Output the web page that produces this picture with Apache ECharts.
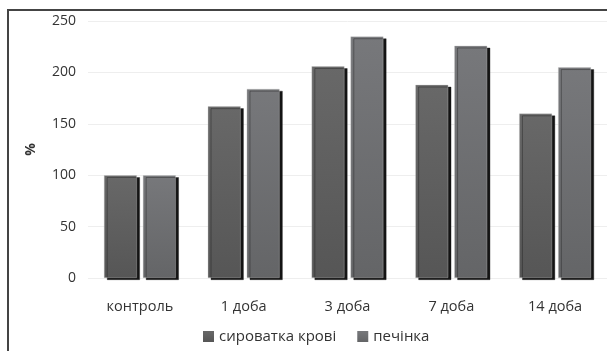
<!DOCTYPE html>
<html>
<head>
<meta charset="utf-8">
<script src="https://cdn.jsdelivr.net/npm/echarts@6/dist/echarts.min.js"></script>
<style>
  html, body { margin: 0; padding: 0; background: #fff; }
  #chart { width: 607px; height: 351px; }
</style>
</head>
<body>
<div id="chart"></div>
<script>
// Categories: control and days after exposure
const categories = ['контроль', '1 доба', '3 доба', '7 доба', '14 доба'];
// Values, % of control
const serumValues = [100, 167, 206, 188, 160];
const liverValues = [100, 184, 235, 226, 205];
const seriesNames = ['сироватка крові', 'печінка'];
const yTicks = { min: 0, max: 250, interval: 50 };

const FONT = '"Open Sans", "Noto Sans", sans-serif';

function barStyle(top, bottom) {
  return {
    color: new echarts.graphic.LinearGradient(0, 0, 0, 1, [
      { offset: 0, color: top },
      { offset: 1, color: bottom }
    ]),
    borderColor: 'rgba(200,200,200,0.6)',
    borderWidth: 0.6,
    shadowColor: 'rgba(20,20,20,1)',
    shadowBlur: 0,
    shadowOffsetX: 3,
    shadowOffsetY: 2
  };
}

const chart = echarts.init(document.getElementById('chart'), null, { renderer: 'canvas' });
chart.setOption({
  animation: false,
  backgroundColor: '#fff',
  textStyle: { fontFamily: FONT },
  graphic: [{
    type: 'rect',
    shape: { x: 8, y: 10, width: 640, height: 380 },
    style: { fill: 'none', stroke: '#444', lineWidth: 2 },
    silent: true,
    z: 100
  }],
  grid: { left: 88, right: 0, top: 21, bottom: 73 },
  legend: {
    left: 203,
    top: 329,
    padding: 0,
    itemWidth: 11,
    itemHeight: 11,
    itemGap: 21,
    icon: 'rect',
    itemStyle: { borderWidth: 0, shadowBlur: 0, shadowOffsetX: 0, shadowOffsetY: 0 },
    textStyle: { fontFamily: FONT, fontSize: 15, color: '#333' },
    data: seriesNames
  },
  xAxis: {
    type: 'category',
    data: categories,
    axisLine: { show: false },
    axisTick: { show: false },
    axisLabel: { fontFamily: FONT, fontSize: 14.5, color: '#333', margin: 21 }
  },
  yAxis: {
    type: 'value',
    min: yTicks.min,
    max: yTicks.max,
    interval: yTicks.interval,
    name: '%',
    nameLocation: 'middle',
    nameRotate: 90,
    nameGap: 50,
    nameTextStyle: { fontFamily: FONT, fontSize: 14, fontWeight: 'bold', color: '#333' },
    axisLine: { show: false },
    axisTick: { show: false },
    axisLabel: { fontFamily: FONT, fontSize: 14, color: '#333', margin: 12 },
    splitLine: { lineStyle: { color: '#eeeeee', width: 1 } }
  },
  series: [
    {
      name: seriesNames[0],
      type: 'bar',
      data: serumValues,
      barWidth: 33,
      barGap: '18%',
      itemStyle: barStyle('#686868', '#565656')
    },
    {
      name: seriesNames[1],
      type: 'bar',
      data: liverValues,
      barWidth: 33,
      itemStyle: barStyle('#77787b', '#646567')
    }
  ]
});
</script>
</body>
</html>
